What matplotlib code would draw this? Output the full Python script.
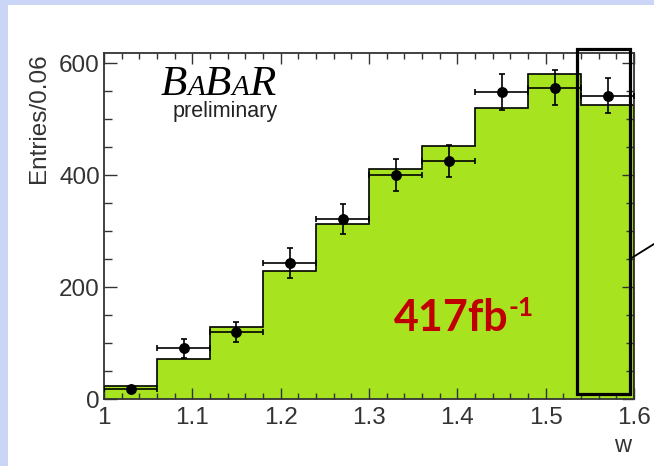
import matplotlib
matplotlib.use("Agg")
import matplotlib.pyplot as plt
from matplotlib.ticker import MultipleLocator
from matplotlib.patches import Rectangle
from matplotlib.lines import Line2D
import numpy as np

# Histogram binning in w (bin width 0.06)
bin_edges = [1.00, 1.06, 1.12, 1.18, 1.24, 1.30, 1.36, 1.42, 1.48, 1.54, 1.60]
# Expected distribution (filled histogram)
mc_counts = [23, 71, 129, 229, 312, 411, 452, 520, 580, 526]
# Measured entries per bin and their errors
data_counts = [17, 91, 120, 243, 321, 400, 425, 549, 556, 542]
data_err = [6, 17, 18, 26, 27, 28, 29, 32, 31, 31]

x_ticks = [1.0, 1.1, 1.2, 1.3, 1.4, 1.5, 1.6]
x_tick_labels = ["1", "1.1", "1.2", "1.3", "1.4", "1.5", "1.6"]
y_ticks = [0, 200, 400, 600]

GREEN = "#a7e41f"
LAVENDER = "#cbd5f5"
AXCOL = "#333333"
plt.rcParams["font.family"] = ["Liberation Sans", "DejaVu Sans"]

W, H = 654, 466
fig = plt.figure(figsize=(W / 100, H / 100), dpi=100)
fig.patch.set_facecolor(LAVENDER)
fig.add_artist(Rectangle((8 / W, 0), 1 - 8 / W, (H - 5) / H, transform=fig.transFigure,
                         facecolor="white", edgecolor="none", zorder=-10))

ax = fig.add_axes([104 / W, 67 / H, 530 / W, 346 / H])
ax.set_facecolor("white")

edges = np.array(bin_edges)
centers = 0.5 * (edges[:-1] + edges[1:])
half = 0.5 * np.diff(edges)

ax.stairs(mc_counts, edges, fill=True, color=GREEN, zorder=1)
ax.stairs(mc_counts, edges, color="black", lw=1.2, zorder=2)
ax.errorbar(centers, data_counts, xerr=half, yerr=data_err, fmt="o", color="black",
            ms=6.8, lw=1.2, capsize=2.2, capthick=1.2, zorder=3)

ax.set_xlim(1.0, 1.6)
ax.set_ylim(0, 618)
ax.set_xticks(x_ticks)
ax.set_xticklabels(x_tick_labels)
ax.set_yticks(y_ticks)
ax.xaxis.set_minor_locator(MultipleLocator(0.02))
ax.yaxis.set_minor_locator(MultipleLocator(50))
ax.tick_params(which="both", direction="in", top=True, right=True, color=AXCOL, width=1.0)
ax.tick_params(axis="x", which="major", length=8, labelsize=17.5, pad=6, labelcolor=AXCOL)
ax.tick_params(axis="x", which="minor", length=4.5)
ax.tick_params(axis="y", which="major", length=9, labelsize=17.5, pad=3, labelcolor=AXCOL)
ax.tick_params(axis="y", which="minor", length=5.5)
for s in ax.spines.values():
    s.set_color(AXCOL)
    s.set_linewidth(1.3)

ax.set_ylabel("Entries/0.06", fontsize=17.5, color=AXCOL, loc="top")
ax.yaxis.set_label_coords(-0.102, 1.0)
ax.set_xlabel("w", fontsize=17, color=AXCOL, loc="right")
ax.xaxis.set_label_coords(0.995, -0.105)

# Highlight box around the last bin and its callout line
ax.add_patch(Rectangle((1.5355, 9), 0.06, 616, fill=False, lw=2.3, ec="black",
                       clip_on=False, zorder=5))
fig.add_artist(Line2D([630 / W, 1.0], [(H - 259) / H, (H - 244) / H],
                      transform=fig.transFigure, color="black", lw=1.3))

fig.canvas.draw()
renderer = fig.canvas.get_renderer()


def place_run(pieces, x0, y_base, **kw):
    """Place text pieces side by side on a common baseline (figure pixels)."""
    x = x0
    for txt, size, dy in pieces:
        t = fig.text(x / W, (H - y_base + dy) / H, txt, fontsize=size, ha="left",
                     va="baseline", **kw)
        bb = t.get_window_extent(renderer)
        x += bb.width
    return x


# Experiment logo with small-caps lettering
place_run([("B", 31, 0), ("A", 21, 0), ("B", 31, 0), ("A", 21, 0), ("R", 31, 0)],
          161, 95, family=["Liberation Serif"], style="italic", color="black")
fig.text(225 / W, (H - 117) / H, "preliminary", fontsize=15.5, ha="center",
         va="baseline", color="#222222")

# Integrated luminosity
place_run([("417fb", 31, 0), ("-1", 19, 15)], 394, 331,
          family=["Lato", "DejaVu Sans"], weight="bold", color="#c00000")

fig.savefig("out.png", dpi=100, facecolor=fig.get_facecolor())
